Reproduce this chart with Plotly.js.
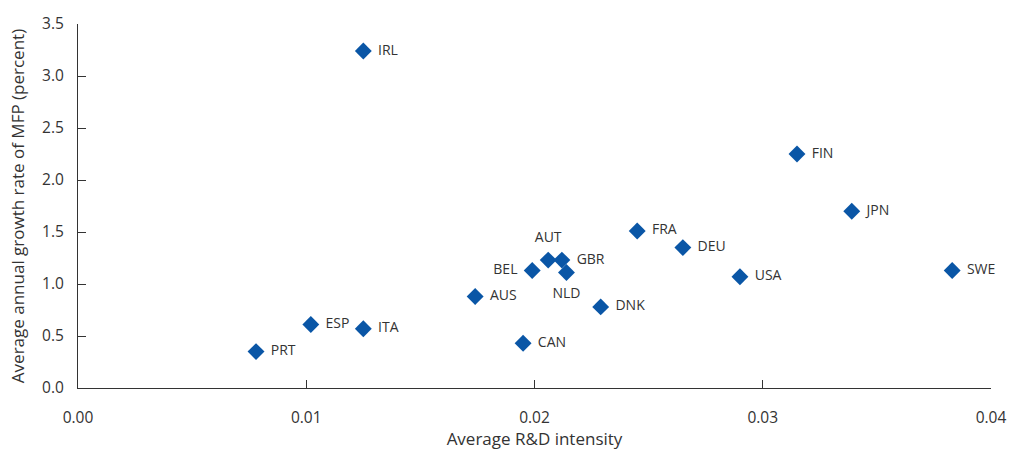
<!DOCTYPE html>
<html>
<head>
<meta charset="utf-8">
<script src="https://cdn.plot.ly/plotly-3.0.1.min.js"></script>
<style>html,body{margin:0;padding:0;background:#fff;}#chart{width:1011px;height:450px;}</style>
</head>
<body>
<div id="chart"></div>
<script>
const countries = ["IRL","FIN","JPN","FRA","DEU","AUT","GBR","BEL","NLD","USA","SWE","AUS","DNK","ESP","ITA","CAN","PRT"];
const rdIntensity = [0.0125,0.0315,0.0339,0.0245,0.0265,0.0206,0.0212,0.0199,0.0214,0.0290,0.0383,0.0174,0.0229,0.0102,0.0125,0.0195,0.0078];
const mfpGrowth = [3.24,2.25,1.70,1.51,1.35,1.23,1.23,1.13,1.11,1.07,1.13,0.88,0.78,0.61,0.57,0.43,0.35];
const labelPos = ["middle right","middle right","middle right","middle right","middle right","top center","middle right","middle left","bottom center","middle right","middle right","middle right","middle right","middle right","middle right","middle right","middle right"];
const xTicks = [0,0.01,0.02,0.03,0.04];
const yTicks = [0,0.5,1.0,1.5,2.0,2.5,3.0,3.5];

const FONT = "Open Sans, sans-serif";
const markers = {
  x: rdIntensity, y: mfpGrowth,
  mode: "markers", type: "scatter",
  marker: {symbol: "diamond", size: 13, color: "#0a56a6"},
  cliponaxis: false, hoverinfo: "none"
};
const labels = {
  x: rdIntensity, y: mfpGrowth, text: countries,
  mode: "markers+text", type: "scatter",
  textposition: labelPos,
  textfont: {family: FONT, size: 14, color: "#333"},
  marker: {symbol: "circle", size: 22, color: "rgba(0,0,0,0)"},
  cliponaxis: false, hoverinfo: "none"
};
const layout = {
  width: 1011, height: 450,
  margin: {l: 78, r: 20, t: 24, b: 62},
  paper_bgcolor: "#fff", plot_bgcolor: "#fff",
  showlegend: false, font: {family: FONT, color: "#333"},
  xaxis: {
    range: [0, 0.04], tickvals: xTicks, tickformat: ".2f",
    showgrid: false, zeroline: false, showline: true, linecolor: "#333", linewidth: 1,
    ticks: "inside", ticklen: 8, tickcolor: "#333",
    ticklabelstandoff: 15,
    tickfont: {family: FONT, size: 15.5, color: "#333"},
    title: {text: "Average R&D intensity", font: {family: FONT, size: 17, color: "#333"}, standoff: 15}
  },
  yaxis: {
    range: [0, 3.5], tickvals: yTicks, tickformat: ".1f",
    showgrid: false, zeroline: false, showline: true, linecolor: "#333", linewidth: 1,
    ticks: "inside", ticklen: 8, tickcolor: "#333",
    ticklabelstandoff: 10,
    tickfont: {family: FONT, size: 15.5, color: "#333"},
    title: {text: "Average annual growth rate of MFP (percent)", font: {family: FONT, size: 17, color: "#333"}, standoff: 13}
  }
};
Plotly.newPlot("chart", [markers, labels], layout, {staticPlot: true});
</script>
</body>
</html>
